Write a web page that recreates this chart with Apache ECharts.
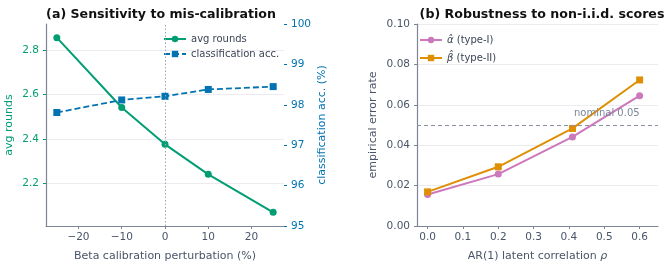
<!DOCTYPE html>
<html>
<head>
<meta charset="utf-8">
<script src="https://cdn.jsdelivr.net/npm/echarts@6/dist/echarts.min.js"></script>
<style>
  html, body { margin: 0; padding: 0; background: #fff; }
  #chart { width: 665px; height: 267px; }
</style>
</head>
<body>
<div id="chart"></div>
<script>
// ---- data ----
var perturb = [-25, -10, 0, 10, 25];           // beta calibration perturbation (%)
var avgRounds = [2.858, 2.542, 2.375, 2.239, 2.067];
var classAcc = [97.81, 98.12, 98.21, 98.38, 98.45];

var rho = [0, 0.2, 0.41, 0.6];                  // AR(1) latent correlation
var alphaHat = [0.0156, 0.0257, 0.0441, 0.0645];
var betaHat = [0.0169, 0.0293, 0.0483, 0.0723];
var nominal = 0.05;

var xTicksA = [-20, -10, 0, 10, 20];
var yTicksA = [2.2, 2.4, 2.6, 2.8];
var xTicksB = [0, 0.1, 0.2, 0.3, 0.4, 0.5, 0.6];

function pairs(xs, ys) {
  var out = [];
  for (var i = 0; i < xs.length; i++) out.push([xs[i], ys[i]]);
  return out;
}

var GREEN = '#029e73', BLUE = '#0173b2', PINK = '#cc78bc', ORANGE = '#de8f05';
var TXT = '#4a5468', SPINE = '#7d8494', GRID = '#ebebf0';
var FONT = 'DejaVu Sans';

var chart = echarts.init(document.getElementById('chart'));

var option = {
  animation: false,
  textStyle: { fontFamily: FONT },
  title: [
    { text: '(a) Sensitivity to mis-calibration', left: 156, top: 3, textAlign: 'center',
      textStyle: { fontFamily: FONT, fontSize: 12.6, fontWeight: 'bold', color: '#111' } },
    { text: '(b) Robustness to non-i.i.d. scores', left: 537, top: 3, textAlign: 'center',
      textStyle: { fontFamily: FONT, fontSize: 12.6, fontWeight: 'bold', color: '#111' } }
  ],
  legend: [
    { // panel (a)
      data: ['avg rounds', 'classification acc.'],
      orient: 'vertical', left: 158, top: 29, itemWidth: 22, itemHeight: 8, itemGap: 5,
      textStyle: { fontFamily: FONT, fontSize: 10, color: '#3c4454' }
    },
    { // panel (b)
      data: ['α̂ (type-I)', 'β̂ (type-II)'],
      orient: 'vertical', left: 414, top: 30, itemWidth: 22, itemHeight: 8, itemGap: 8,
      formatter: function (name) {
        var p = name.split(' ');
        return '{i|' + p[0] + '} ' + p.slice(1).join(' ');
      },
      textStyle: { fontFamily: FONT, fontSize: 10, color: '#3c4454',
        rich: { i: { fontFamily: FONT, fontSize: 10, fontStyle: 'italic', color: '#3c4454' } } }
    }
  ],
  grid: [
    { left: 46, right: 381, top: 24, bottom: 37 },
    { left: 417, right: 7, top: 24, bottom: 37 }
  ],
  xAxis: [
    {
      gridIndex: 0, type: 'value', min: -27.5, max: 27.5,
      name: 'Beta calibration perturbation (%)', nameLocation: 'middle', nameGap: 25,
      nameTextStyle: { fontFamily: FONT, fontSize: 11, color: TXT },
      axisLine: { onZero: false, lineStyle: { color: SPINE, width: 1.2 } },
      axisTick: { length: 3, customValues: xTicksA, lineStyle: { color: SPINE } },
      axisLabel: { customValues: xTicksA, fontSize: 10.5, color: TXT, margin: 6,
        formatter: function (v) { return v < 0 ? '\u2212' + Math.abs(v) : String(v); } },
      splitLine: { show: false }
    },
    {
      gridIndex: 1, type: 'value', min: -0.03, max: 0.652,
      name: 'AR(1) latent correlation {i|ρ}', nameLocation: 'middle', nameGap: 25,
      nameTextStyle: { fontFamily: FONT, fontSize: 11, color: TXT,
        rich: { i: { fontFamily: FONT, fontSize: 11, fontStyle: 'italic', color: TXT } } },
      axisLine: { onZero: false, lineStyle: { color: SPINE, width: 1.2 } },
      axisTick: { length: 3, customValues: xTicksB, lineStyle: { color: SPINE } },
      axisLabel: { customValues: xTicksB, fontSize: 10.5, color: TXT, margin: 6,
        formatter: function (v) { return v.toFixed(1); } },
      splitLine: { show: false }
    }
  ],
  yAxis: [
    {
      gridIndex: 0, type: 'value', min: 2.005, max: 2.92, position: 'left',
      name: 'avg rounds', nameLocation: 'middle', nameGap: 31,
      nameTextStyle: { fontFamily: FONT, fontSize: 11, color: GREEN },
      axisLine: { show: true, onZero: false, lineStyle: { color: SPINE, width: 1.2 } },
      axisTick: { show: true, length: 3, customValues: yTicksA, lineStyle: { color: GREEN } },
      axisLabel: { customValues: yTicksA, fontSize: 10.5, color: GREEN, margin: 7,
        formatter: function (v) { return v.toFixed(1); } },
      splitLine: { show: true, lineStyle: { color: GRID, width: 1 } }
    },
    {
      gridIndex: 0, type: 'value', min: 95, max: 100, interval: 1, position: 'right',
      name: 'classification acc. (%)', nameLocation: 'middle', nameGap: 33,
      nameTextStyle: { fontFamily: FONT, fontSize: 11, color: BLUE },
      axisLine: { show: false, onZero: false },
      axisTick: { show: true, length: 3, lineStyle: { color: BLUE } },
      axisLabel: { fontSize: 10.5, color: BLUE, margin: 7 },
      splitLine: { show: false }
    },
    {
      gridIndex: 1, type: 'value', min: 0, max: 0.1, interval: 0.02,
      name: 'empirical error rate', nameLocation: 'middle', nameGap: 38,
      nameTextStyle: { fontFamily: FONT, fontSize: 11, color: TXT },
      axisLine: { show: true, onZero: false, lineStyle: { color: SPINE, width: 1.2 } },
      axisTick: { show: true, length: 3, lineStyle: { color: SPINE } },
      axisLabel: { fontSize: 10.5, color: TXT, margin: 7,
        formatter: function (v) { return v.toFixed(2); } },
      splitLine: { show: true, showMinLine: false, lineStyle: { color: GRID, width: 1 } }
    }
  ],
  series: [
    {
      name: 'avg rounds', type: 'line', xAxisIndex: 0, yAxisIndex: 0,
      data: pairs(perturb, avgRounds), symbol: 'circle', symbolSize: 7,
      lineStyle: { color: GREEN, width: 2 }, itemStyle: { color: GREEN },
      markLine: {
        silent: true, symbol: 'none', label: { show: false },
        lineStyle: { color: '#9aa3b5', type: [1.5, 2], width: 1 },
        data: [{ xAxis: 0 }]
      },
      z: 3
    },
    {
      name: 'classification acc.', type: 'line', xAxisIndex: 0, yAxisIndex: 1,
      data: pairs(perturb, classAcc), symbol: 'rect', symbolSize: 7,
      lineStyle: { color: BLUE, width: 1.8, type: [6, 3] }, itemStyle: { color: BLUE },
      z: 3
    },
    {
      name: 'α̂ (type-I)', type: 'line', xAxisIndex: 1, yAxisIndex: 2,
      data: pairs(rho, alphaHat), symbol: 'circle', symbolSize: 7,
      lineStyle: { color: PINK, width: 2 }, itemStyle: { color: PINK },
      markLine: {
        silent: true, symbol: 'none', label: { show: false },
        lineStyle: { color: '#8c93a3', type: [4, 3], width: 1 },
        data: [{ yAxis: nominal }]
      },
      markPoint: {
        silent: true, symbol: 'circle', symbolSize: 0,
        data: [{ coord: [0.6, 0.0558] }],
        label: { show: true, position: 'left', distance: 0, formatter: 'nominal 0.05',
          fontFamily: FONT, fontSize: 10, color: '#7b869b' }
      },
      z: 3
    },
    {
      name: 'β̂ (type-II)', type: 'line', xAxisIndex: 1, yAxisIndex: 2,
      data: pairs(rho, betaHat), symbol: 'rect', symbolSize: 7,
      lineStyle: { color: ORANGE, width: 2 }, itemStyle: { color: ORANGE },
      z: 3
    }
  ]
};

chart.setOption(option);
</script>
</body>
</html>
